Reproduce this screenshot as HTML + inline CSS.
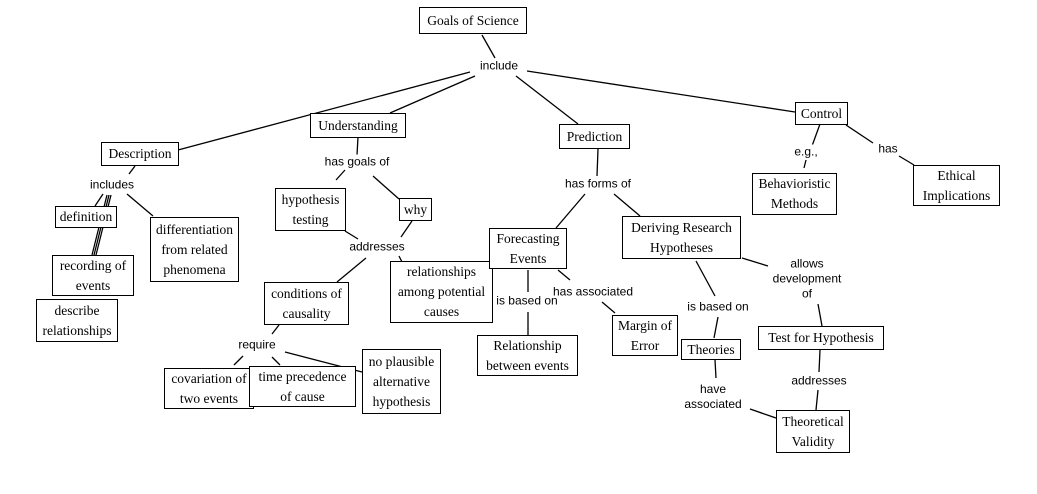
<!DOCTYPE html>
<html><head><meta charset="utf-8"><style>
body{margin:0;width:1037px;height:494px;background:#fff;position:relative;overflow:hidden}
.b{position:absolute;border:1px solid #000;background:#fff;font-family:"Liberation Serif",serif;font-size:13.5px;line-height:20px;text-align:center;box-sizing:border-box;display:flex;align-items:center;justify-content:center;color:#000}
.l{position:absolute;font-family:"Liberation Sans",sans-serif;font-size:12px;line-height:15px;text-align:center;background:#fff;color:#000;transform:translate(-50%,-50%);white-space:nowrap}
svg{position:absolute;left:0;top:0}
</style></head><body>
<svg width="1037" height="494" stroke="#000" stroke-width="1.3" fill="none">
<line x1="482" y1="35" x2="495" y2="58"/>
<line x1="470" y1="72" x2="178" y2="150"/>
<line x1="475" y1="76" x2="390" y2="113"/>
<line x1="516" y1="76" x2="578" y2="124"/>
<line x1="527" y1="71" x2="795" y2="112"/>
<line x1="358" y1="137" x2="357" y2="155"/>
<line x1="345" y1="170" x2="336" y2="180"/>
<line x1="373" y1="176" x2="399" y2="199"/>
<line x1="135" y1="166" x2="129" y2="174"/>
<line x1="103" y1="194" x2="95" y2="206"/>
<line x1="111" y1="195" x2="96" y2="255"/>
<line x1="109" y1="195" x2="94" y2="255"/>
<line x1="107" y1="195" x2="92" y2="255"/>
<line x1="127" y1="194" x2="153" y2="216"/>
<line x1="345" y1="231" x2="358" y2="239"/>
<line x1="412" y1="221" x2="401" y2="237"/>
<line x1="366" y1="258" x2="337" y2="282"/>
<line x1="399" y1="256" x2="402" y2="262"/>
<line x1="279" y1="325" x2="272" y2="334"/>
<line x1="243" y1="356" x2="234" y2="365"/>
<line x1="272" y1="357" x2="280" y2="365"/>
<line x1="285" y1="352" x2="362" y2="372"/>
<line x1="598" y1="149" x2="597" y2="176"/>
<line x1="585" y1="194" x2="556" y2="228"/>
<line x1="614" y1="194" x2="640" y2="216"/>
<line x1="528" y1="270" x2="528" y2="292"/>
<line x1="528" y1="312" x2="528" y2="335"/>
<line x1="558" y1="270" x2="570" y2="280"/>
<line x1="602" y1="302" x2="615" y2="313"/>
<line x1="696" y1="261" x2="715" y2="296"/>
<line x1="718" y1="317" x2="714" y2="338"/>
<line x1="715" y1="360" x2="716" y2="378"/>
<line x1="742" y1="258" x2="768" y2="266"/>
<line x1="818" y1="304" x2="822" y2="326"/>
<line x1="820" y1="350" x2="819" y2="372"/>
<line x1="818" y1="390" x2="816" y2="410"/>
<line x1="750" y1="409" x2="776" y2="418"/>
<line x1="820" y1="124" x2="812" y2="146"/>
<line x1="806" y1="160" x2="804" y2="168"/>
<line x1="846" y1="125" x2="873" y2="143"/>
<line x1="899" y1="156" x2="914" y2="165"/>
</svg>
<div class="b" style="left:419px;top:7px;width:108px;height:27px">Goals of Science</div>
<div class="b" style="left:101px;top:142px;width:78px;height:24px">Description</div>
<div class="b" style="left:310px;top:113px;width:96px;height:25px">Understanding</div>
<div class="b" style="left:559px;top:124px;width:71px;height:25px">Prediction</div>
<div class="b" style="left:795px;top:102px;width:53px;height:23px">Control</div>
<div class="b" style="left:55px;top:206px;width:62px;height:22px">definition</div>
<div class="b" style="left:52px;top:255px;width:82px;height:41px">recording of<br>events</div>
<div class="b" style="left:36px;top:299px;width:82px;height:43px">describe<br>relationships</div>
<div class="b" style="left:150px;top:217px;width:89px;height:65px">differentiation<br>from related<br>phenomena</div>
<div class="b" style="left:275px;top:188px;width:71px;height:43px">hypothesis<br>testing</div>
<div class="b" style="left:399px;top:198px;width:33px;height:23px">why</div>
<div class="b" style="left:264px;top:282px;width:85px;height:43px">conditions of<br>causality</div>
<div class="b" style="left:390px;top:261px;width:103px;height:62px">relationships<br>among potential<br>causes</div>
<div class="b" style="left:164px;top:368px;width:90px;height:41px">covariation of<br>two events</div>
<div class="b" style="left:249px;top:366px;width:107px;height:41px">time precedence<br>of cause</div>
<div class="b" style="left:362px;top:349px;width:79px;height:65px">no plausible<br>alternative<br>hypothesis</div>
<div class="b" style="left:489px;top:228px;width:78px;height:41px">Forecasting<br>Events</div>
<div class="b" style="left:477px;top:335px;width:101px;height:41px">Relationship<br>between events</div>
<div class="b" style="left:612px;top:315px;width:66px;height:41px">Margin of<br>Error</div>
<div class="b" style="left:622px;top:216px;width:119px;height:43px">Deriving Research<br>Hypotheses</div>
<div class="b" style="left:681px;top:339px;width:60px;height:21px">Theories</div>
<div class="b" style="left:758px;top:326px;width:126px;height:24px">Test for Hypothesis</div>
<div class="b" style="left:776px;top:410px;width:74px;height:43px">Theoretical<br>Validity</div>
<div class="b" style="left:752px;top:173px;width:85px;height:42px">Behavioristic<br>Methods</div>
<div class="b" style="left:913px;top:165px;width:87px;height:41px">Ethical<br>Implications</div>
<div class="l" style="left:499px;top:66px">include</div>
<div class="l" style="left:357px;top:162px">has goals of</div>
<div class="l" style="left:112px;top:185px">includes</div>
<div class="l" style="left:377px;top:247px">addresses</div>
<div class="l" style="left:257px;top:345px">require</div>
<div class="l" style="left:598px;top:184px">has forms of</div>
<div class="l" style="left:806px;top:152px">e.g.,</div>
<div class="l" style="left:888px;top:149px">has</div>
<div class="l" style="left:527px;top:301px;background:none">is based on</div>
<div class="l" style="left:593px;top:292px;background:none">has associated</div>
<div class="l" style="left:718px;top:307px">is based on</div>
<div class="l" style="left:807px;top:279px">allows<br>development<br>of</div>
<div class="l" style="left:713px;top:397px">have<br>associated</div>
<div class="l" style="left:819px;top:381px">addresses</div>
</body></html>
